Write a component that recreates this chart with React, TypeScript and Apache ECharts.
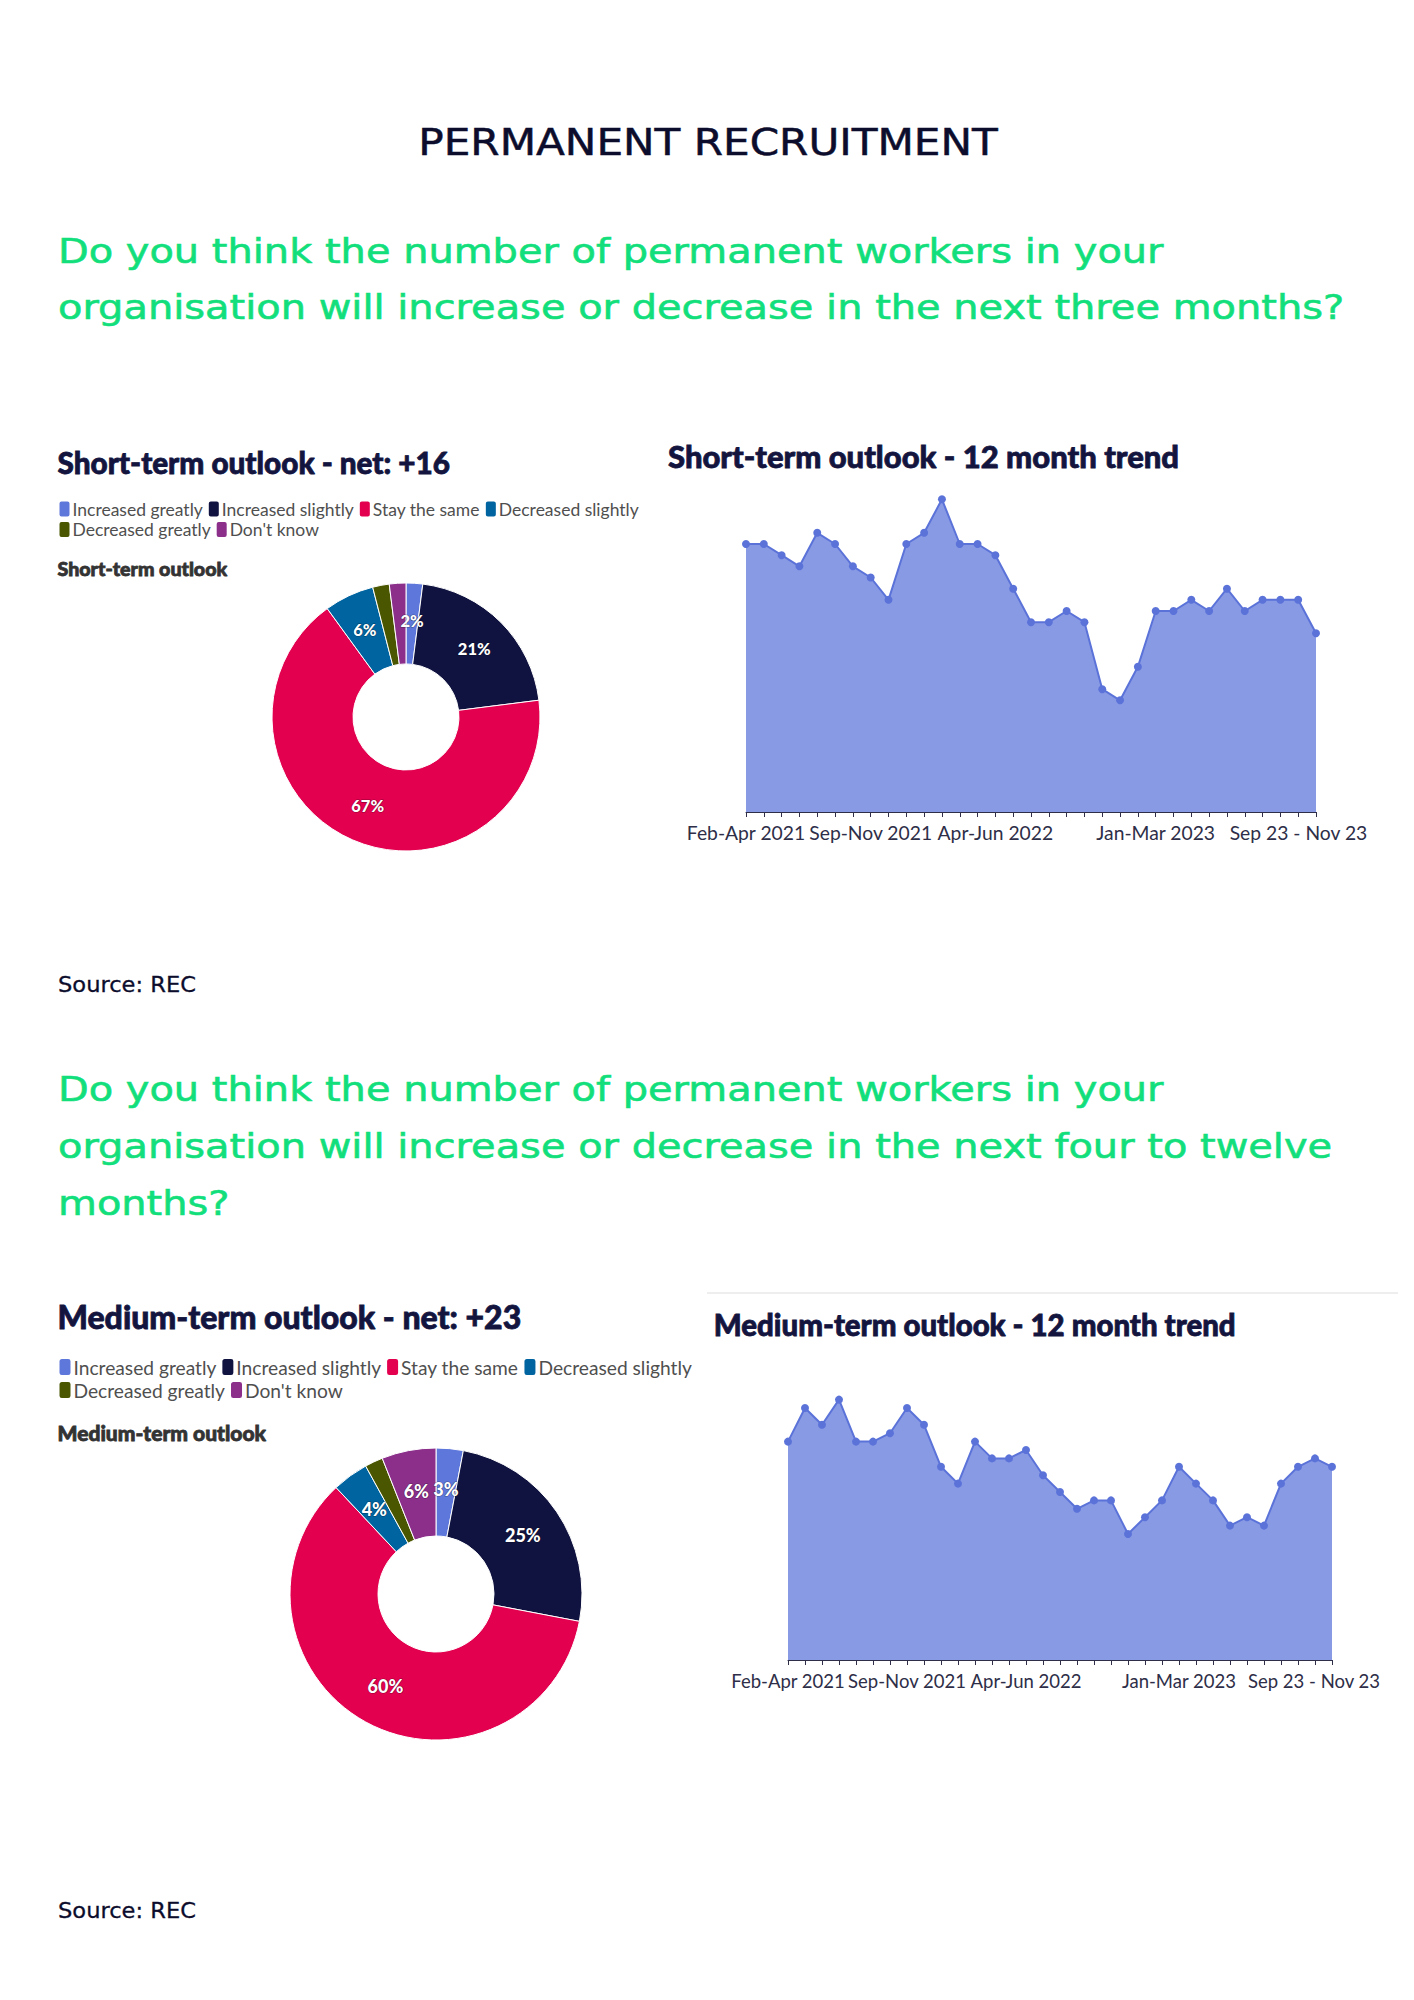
import React, { useEffect, useRef } from "react";
import * as echarts from "echarts";

// ---------- data ----------
const RESPONSES = [
  "Increased greatly",
  "Increased slightly",
  "Stay the same",
  "Decreased slightly",
  "Decreased greatly",
  "Don't know",
];
const SHORT_SHARE = [2, 21, 67, 6, 2, 2];
const MEDIUM_SHARE = [3, 25, 60, 4, 2, 6];
const SHORT_UNLABELLED = ["Decreased greatly", "Don't know"];
const MEDIUM_UNLABELLED = ["Decreased greatly"];

const PERIODS = [
  "Feb-Apr 2021", "Mar-May 2021", "Apr-Jun 2021", "May-Jul 2021", "Jun-Aug 2021",
  "Jul-Sep 2021", "Aug-Oct 2021", "Sep-Nov 2021", "Oct-Dec 2021", "Nov 2021-Jan 2022",
  "Dec 2021-Feb 2022", "Jan-Mar 2022", "Feb-Apr 2022", "Mar-May 2022", "Apr-Jun 2022",
  "May-Jul 2022", "Jun-Aug 2022", "Jul-Sep 2022", "Aug-Oct 2022", "Sep-Nov 2022",
  "Oct-Dec 2022", "Nov 2022-Jan 2023", "Dec 2022-Feb 2023", "Jan-Mar 2023", "Feb-Apr 2023",
  "Mar-May 2023", "Apr-Jun 2023", "May-Jul 2023", "Jun-Aug 2023", "Jul-Sep 2023",
  "Aug-Oct 2023", "Aug 23 - Oct 23", "Sep 23 - Nov 23",
];
const TICK_LABELS = ["Feb-Apr 2021", "Sep-Nov 2021", "Apr-Jun 2022", "Jan-Mar 2023", "Sep 23 - Nov 23"];
const SHORT_TREND = [24, 24, 23, 22, 25, 24, 22, 21, 19, 24, 25, 28, 24, 24, 23, 20, 17, 17, 18, 17, 11, 10, 13, 18, 18, 19, 18, 20, 18, 19, 19, 19, 16];
const MEDIUM_TREND = [26, 30, 28, 31, 26, 26, 27, 30, 28, 23, 21, 26, 24, 24, 25, 22, 20, 18, 19, 19, 15, 17, 19, 23, 21, 19, 16, 17, 16, 21, 23, 24, 23];

// ---------- styles ----------
const RESPONSE_COLORS = ["#5e77db", "#10133f", "#e3004f", "#0064a0", "#4b5700", "#8b2f8b"];
const NAVY = "#0c0c2c";
const TITLE_NAVY = "#13153f";
const GREEN = "#12df7c";
const AREA_BLUE = "#5b73d9";
const AXIS_COLOR = "#2e2e48";
const LAST_PERIOD = PERIODS[PERIODS.length - 1];

function txt(x: number, y: number, text: string, font: string, fill: string, o: any = {}) {
  const align = o.align || "left";
  const va = o.va || "middle";
  return {
    type: "text",
    x,
    y,
    scaleX: o.scaleX || 1,
    silent: true,
    style: {
      text,
      font,
      fill,
      stroke: o.stroke,
      lineWidth: o.strokeWidth,
      align,
      verticalAlign: va,
      textAlign: align,
      textVerticalAlign: va,
      lineHeight: o.lineHeight,
    },
  };
}

function pieSeries(values: number[], hidden: string[], center: number[], radius: number[], fontSize: number) {
  return {
    type: "pie",
    center,
    radius,
    startAngle: 90,
    clockwise: true,
    avoidLabelOverlap: false,
    itemStyle: { borderColor: "#ffffff", borderWidth: 1 },
    label: {
      show: true,
      position: "inside",
      formatter: "{c}%",
      color: "#ffffff",
      fontFamily: "Lato",
      fontWeight: 900,
      fontSize,
      textBorderColor: "rgba(0,0,0,0.4)",
      textBorderWidth: 1.2,
    },
    labelLine: { show: false },
    data: RESPONSES.map((name, i) => ({
      name,
      value: values[i],
      itemStyle: { color: RESPONSE_COLORS[i] },
      label: hidden.includes(name) ? { show: false } : undefined,
    })),
  };
}

function legend(left: number, top: number, names: string[], fontSize: number, iw: number, ih: number) {
  return {
    left,
    top,
    padding: 0,
    orient: "horizontal",
    data: names,
    icon: "roundRect",
    itemWidth: iw,
    itemHeight: ih,
    itemGap: 4,
    selectedMode: false,
    textStyle: { fontFamily: "Lato", fontSize, color: "#4f4f4f", padding: [0, 0, 0, -3] },
  };
}

function xAxis(gridIndex: number, fontSize: number, shift: number) {
  return {
    type: "category",
    gridIndex,
    data: PERIODS,
    boundaryGap: false,
    axisLine: { show: true, lineStyle: { color: AXIS_COLOR, width: 1 } },
    axisTick: { show: true, interval: 0, length: 5, lineStyle: { color: AXIS_COLOR } },
    splitLine: { show: false },
    axisLabel: {
      interval: (_i: number, v: string) => TICK_LABELS.includes(v),
      fontFamily: "Lato",
      fontSize,
      color: AXIS_COLOR,
      margin: 11,
      formatter: (v: string) => (v === LAST_PERIOD ? `{end|${v}}` : v),
      rich: {
        end: { fontFamily: "Lato", fontSize, color: AXIS_COLOR, padding: [0, shift, 0, 0] },
      },
    },
  };
}

function areaSeries(data: number[], idx: number) {
  return {
    type: "line",
    xAxisIndex: idx,
    yAxisIndex: idx,
    data,
    symbol: "circle",
    symbolSize: 8,
    showAllSymbol: true,
    lineStyle: { color: AREA_BLUE, width: 2 },
    itemStyle: { color: AREA_BLUE },
    areaStyle: { color: AREA_BLUE, opacity: 0.72 },
  };
}

const HEAVY = (c: string) => ({ stroke: c, strokeWidth: 0.8 });

const option: any = {
  animation: false,
  backgroundColor: "#ffffff",
  graphic: [
    txt(708, 142, "PERMANENT RECRUITMENT", "400 37px 'DejaVu Sans'", NAVY, { align: "center", scaleX: 1.14, stroke: NAVY, strokeWidth: 0.5 }),
    txt(58, 223.6,
      "Do you think the number of permanent workers in your\norganisation will increase or decrease in the next three months?",
      "400 33px 'DejaVu Sans'", GREEN, { va: "top", lineHeight: 56.2, scaleX: 1.21, stroke: GREEN, strokeWidth: 0.6 }),
    txt(57.5, 462.3, "Short-term outlook - net: +16", "900 29.7px Lato", TITLE_NAVY, HEAVY(TITLE_NAVY)),
    txt(57.5, 568.3, "Short-term outlook", "900 19.6px Lato", "#333333", HEAVY("#333333")),
    txt(668, 456, "Short-term outlook - 12 month trend", "900 31px Lato", TITLE_NAVY, HEAVY(TITLE_NAVY)),
    txt(58, 985, "Source: REC", "400 21.5px 'DejaVu Sans'", NAVY, { scaleX: 1.05, stroke: NAVY, strokeWidth: 0.3 }),
    txt(58, 1060.8,
      "Do you think the number of permanent workers in your\norganisation will increase or decrease in the next four to twelve\nmonths?",
      "400 33px 'DejaVu Sans'", GREEN, { va: "top", lineHeight: 57, scaleX: 1.21, stroke: GREEN, strokeWidth: 0.6 }),
    {
      type: "line",
      silent: true,
      shape: { x1: 707, y1: 1293, x2: 1398, y2: 1293 },
      style: { stroke: "#eeeeee", lineWidth: 2 },
    },
    txt(57.5, 1316.6, "Medium-term outlook - net: +23", "900 32px Lato", TITLE_NAVY, HEAVY(TITLE_NAVY)),
    txt(57.5, 1432.8, "Medium-term outlook", "900 21px Lato", "#333333", HEAVY("#333333")),
    txt(713.8, 1324, "Medium-term outlook - 12 month trend", "900 29.4px Lato", TITLE_NAVY, HEAVY(TITLE_NAVY)),
    txt(58, 1910.4, "Source: REC", "400 21.5px 'DejaVu Sans'", NAVY, { scaleX: 1.05, stroke: NAVY, strokeWidth: 0.3 }),
  ],
  legend: [
    legend(57.5, 499.5, RESPONSES.slice(0, 4), 17.5, 12, 17),
    legend(57.5, 520, RESPONSES.slice(4), 17.5, 12, 17),
    legend(57.5, 1357, RESPONSES.slice(0, 4), 19.2, 13, 18),
    legend(57.5, 1380, RESPONSES.slice(4), 19.2, 13, 18),
  ],
  grid: [
    { left: 746, top: 477, width: 570, height: 335 },
    { left: 788, top: 1366, width: 544, height: 294 },
  ],
  xAxis: [xAxis(0, 19.3, 35), xAxis(1, 18.5, 36)],
  yAxis: [
    { type: "value", gridIndex: 0, min: 0, max: 30, show: false },
    { type: "value", gridIndex: 1, min: 0, max: 35, show: false },
  ],
  series: [
    pieSeries(SHORT_SHARE, SHORT_UNLABELLED, [406, 717], [53, 134], 16.5),
    pieSeries(MEDIUM_SHARE, MEDIUM_UNLABELLED, [436, 1594], [58, 146], 18),
    areaSeries(SHORT_TREND, 0),
    areaSeries(MEDIUM_TREND, 1),
  ],
};

export default function App() {
  const ref = useRef<HTMLDivElement>(null);
  useEffect(() => {
    document.body.style.margin = "0";
    const chart = echarts.init(ref.current as HTMLDivElement, null, { renderer: "svg" });
    chart.setOption(option);
    return () => chart.dispose();
  }, []);
  return <div ref={ref} style={{ width: 1414, height: 2000, background: "#ffffff" }} />;
}
